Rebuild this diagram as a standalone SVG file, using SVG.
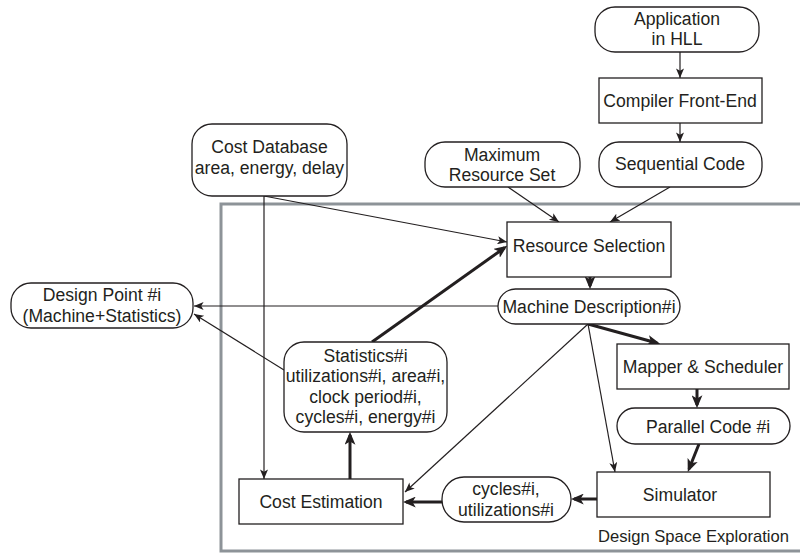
<svg xmlns="http://www.w3.org/2000/svg" width="800" height="553" viewBox="0 0 800 553">
<style>
.b{fill:#fff;stroke:#231f20;stroke-width:1.3}
.t{font-family:"Liberation Sans",Arial,sans-serif;font-size:17.6px;fill:#231f20;text-anchor:middle}
.thin{fill:none;stroke:#231f20;stroke-width:1.2;marker-end:url(#ah)}
.thick{fill:none;stroke:#231f20;stroke-width:3;marker-end:url(#ahb)}
</style>
<defs>
<marker id="ah" viewBox="0 0 12 10" refX="12" refY="5" markerWidth="11" markerHeight="8" markerUnits="userSpaceOnUse" orient="auto">
<path d="M0,0 L12,5 L0,10 L3,5 z" fill="#231f20"/>
</marker>
<marker id="ahb" viewBox="0 0 12 10" refX="9" refY="5" markerWidth="13" markerHeight="11" markerUnits="userSpaceOnUse" orient="auto">
<path d="M0,0 L12,5 L0,10 L3,5 z" fill="#231f20"/>
</marker>
</defs>
<rect width="800" height="553" fill="#fff"/>
<g id="dse-frame">
<rect x="221" y="204" width="620" height="347" fill="none" stroke="#8d9398" stroke-width="3"/>
<text class="t" x="598" y="542" style="text-anchor:start;font-size:16.6px">Design Space Exploration</text>
</g>
<g id="connectors">
<path class="thin" d="M680,52 L680,78"/>
<path class="thin" d="M680,123 L680,142"/>
<path class="thin" d="M508,187 L559,222"/>
<path class="thin" d="M670,187 L610,222"/>
<path class="thin" d="M264,196 L507,242"/>
<path class="thin" d="M264,196 L264,479"/>
<path class="thin" d="M498,306 L194,306"/>
<path class="thin" d="M284,370 L194,314"/>
<path class="thin" d="M588,324 L615,472"/>
<path class="thin" d="M588,324 L405,492"/>
<path class="thick" d="M590,277 L590,286"/>
<path class="thick" d="M372,342 L504.6,247.7"/>
<path class="thick" d="M588,324 L657,343"/>
<path class="thick" d="M697,389 L697,405"/>
<path class="thick" d="M699,444 L689,469"/>
<path class="thick" d="M597,499 L574,499"/>
<path class="thick" d="M442,502 L406,502"/>
<path class="thick" d="M350,479 L350,435"/>
</g>
<g id="application">
<rect class="b" x="595" y="7" width="164" height="45" rx="20"/>
<text class="t" x="677" y="25">Application</text>
<text class="t" x="677" y="45">in HLL</text>
</g>
<g id="compiler">
<rect class="b" x="599" y="78" width="163" height="45"/>
<text class="t" x="680" y="107">Compiler Front-End</text>
</g>
<g id="sequential">
<rect class="b" x="599" y="142" width="163" height="45" rx="20"/>
<text class="t" x="680" y="170">Sequential Code</text>
</g>
<g id="maxres">
<rect class="b" x="425" y="142" width="155" height="45" rx="20"/>
<text class="t" x="502" y="161">Maximum</text>
<text class="t" x="502" y="181">Resource Set</text>
</g>
<g id="costdb">
<rect class="b" x="192" y="124" width="155" height="72" rx="20"/>
<text class="t" x="269.5" y="153">Cost Database</text>
<text class="t" x="269.5" y="174">area, energy, delay</text>
</g>
<g id="ressel">
<rect class="b" x="507" y="222" width="164" height="55"/>
<text class="t" x="589" y="252">Resource Selection</text>
</g>
<g id="machdesc">
<rect class="b" x="498" y="289" width="182" height="35" rx="17.5"/>
<text class="t" x="589" y="313">Machine Description#i</text>
</g>
<g id="designpoint">
<rect class="b" x="11" y="283" width="182" height="45" rx="20"/>
<text class="t" x="102" y="301">Design Point #i</text>
<text class="t" x="102" y="322">(Machine+Statistics)</text>
</g>
<g id="statistics">
<rect class="b" x="284" y="342" width="163" height="90" rx="20"/>
<text class="t" x="365.5" y="362">Statistics#i</text>
<text class="t" x="365.5" y="382">utilizations#i, area#i,</text>
<text class="t" x="365.5" y="403">clock period#i,</text>
<text class="t" x="365.5" y="423">cycles#i, energy#i</text>
</g>
<g id="mapper">
<rect class="b" x="617" y="344" width="172" height="45"/>
<text class="t" x="703" y="373">Mapper &amp; Scheduler</text>
</g>
<g id="parallel">
<rect class="b" x="617" y="408" width="173" height="36" rx="18"/>
<text class="t" x="708" y="433">Parallel Code #i</text>
</g>
<g id="simulator">
<rect class="b" x="597" y="472" width="173" height="45"/>
<text class="t" x="680" y="501">Simulator</text>
</g>
<g id="cycles">
<rect class="b" x="442" y="477" width="129" height="45" rx="22"/>
<text class="t" x="506" y="495">cycles#i,</text>
<text class="t" x="506" y="516">utilizations#i</text>
</g>
<g id="costest">
<rect class="b" x="239" y="479" width="164" height="45"/>
<text class="t" x="321" y="508">Cost Estimation</text>
</g>
</svg>
